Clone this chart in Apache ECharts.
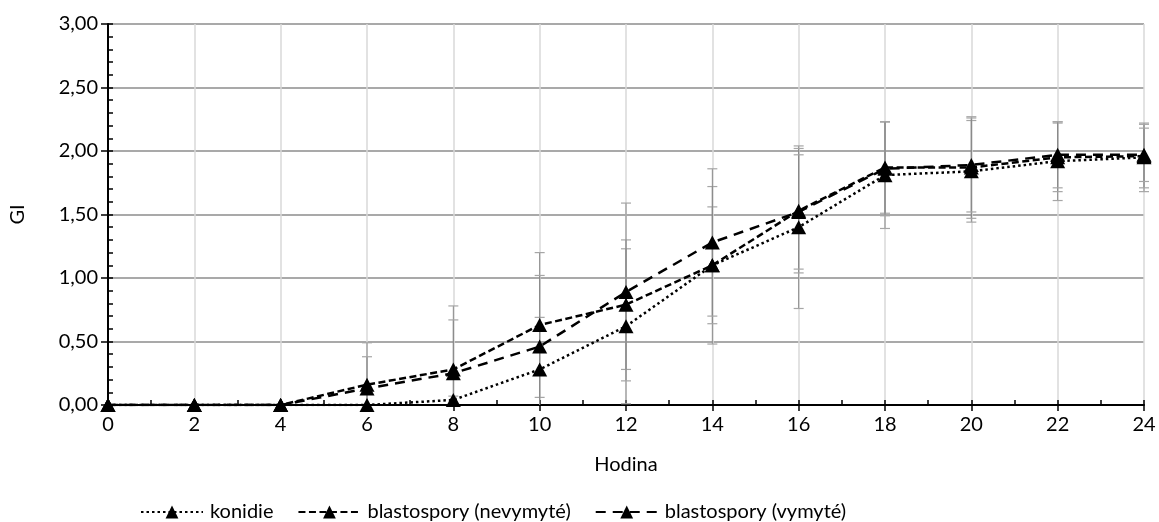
<!DOCTYPE html>
<html>
<head>
<meta charset="utf-8">
<script src="https://cdn.jsdelivr.net/npm/echarts@6/dist/echarts.min.js"></script>
<style>
html,body{margin:0;padding:0;background:#fff;}
#chart{width:1159px;height:522px;}
</style>
</head>
<body>
<div id="chart"></div>
<script>
const hours = [0, 2, 4, 6, 8, 10, 12, 14, 16, 18, 20, 22, 24];
const seriesNames = ['konidie', 'blastospory (nevymyté)', 'blastospory (vymyté)'];
const konidie = [0, 0, 0, 0, 0.04, 0.28, 0.62, 1.10, 1.40, 1.81, 1.84, 1.92, 1.95];
const konidieErr = [0, 0, 0, 0, 0.03, 0.41, 0.61, 0.62, 0.64, 0.42, 0.40, 0.31, 0.27];
const nevymyte = [0, 0, 0, 0.16, 0.28, 0.63, 0.79, 1.10, 1.53, 1.87, 1.87, 1.95, 1.96];
const nevymyteErr = [0, 0, 0, 0.33, 0.50, 0.57, 0.51, 0.46, 0.49, 0.36, 0.40, 0.27, 0.25];
const vymyte = [0, 0, 0, 0.13, 0.25, 0.46, 0.89, 1.28, 1.52, 1.86, 1.89, 1.97, 1.97];
const vymyteErr = [0, 0, 0, 0.25, 0.42, 0.56, 0.70, 0.58, 0.45, 0.37, 0.37, 0.26, 0.21];
const yTickLabels = ['0,00', '0,50', '1,00', '1,50', '2,00', '2,50', '3,00'];

const FONT = 'Lato, "Open Sans", sans-serif';
const FS = 20;
const YMIN = 0, YMAX = 3;

function pairs(vals) { return hours.map((h, i) => [h, vals[i]]); }
function errData(vals, errs) { return hours.map((h, i) => [h, vals[i], errs[i]]); }

function errRender(params, api) {
  const x = api.value(0), v = api.value(1), e = api.value(2);
  if (!e) return null;
  const hi = Math.min(YMAX, v + e), lo = Math.max(YMIN, v - e);
  const pHi = api.coord([x, hi]), pLo = api.coord([x, lo]);
  const cap = 5;
  const style = { stroke: '#8a8a8a', lineWidth: 1 };
  const capStyle = { stroke: '#a6a6a6', lineWidth: 1.2 };
  const children = [
    { type: 'line', shape: { x1: pHi[0], y1: pHi[1], x2: pLo[0], y2: pLo[1] }, style: style }
  ];
  if (v + e <= YMAX) children.push({ type: 'line', shape: { x1: pHi[0] - cap, y1: pHi[1], x2: pHi[0] + cap, y2: pHi[1] }, style: capStyle });
  if (v - e >= YMIN) children.push({ type: 'line', shape: { x1: pLo[0] - cap, y1: pLo[1], x2: pLo[0] + cap, y2: pLo[1] }, style: capStyle });
  return { type: 'group', children: children };
}

function lineSeries(name, vals, dash) {
  return {
    name: name, type: 'line', data: pairs(vals),
    symbol: 'triangle', symbolSize: [15, 14],
    itemStyle: { color: '#000' },
    lineStyle: { color: '#000', width: 2.5, type: dash },
    z: 5, animation: false
  };
}
function errSeries(vals, errs) {
  return {
    type: 'custom', data: errData(vals, errs), renderItem: errRender,
    encode: { x: 0, y: 1 }, z: 3, silent: true, animation: false, clip: false
  };
}

const chart = echarts.init(document.getElementById('chart'));
chart.setOption({
  animation: false,
  backgroundColor: '#fff',
  textStyle: { fontFamily: FONT },
  grid: { left: 108, right: 15, top: 24, bottom: 117, containLabel: false },
  legend: {
    data: seriesNames,
    left: 135, top: 497,
    itemWidth: 62, itemHeight: 16, itemGap: 24,
    textStyle: { fontFamily: FONT, fontSize: FS, color: '#000', padding: [0, 0, 0, 2] }
  },
  xAxis: [{
    type: 'value', min: 0, max: 24, interval: 2,
    name: 'Hodina', nameLocation: 'middle', nameGap: 50,
    nameTextStyle: { fontFamily: FONT, fontSize: FS, color: '#000' },
    axisLine: { show: true, onZero: false, lineStyle: { color: '#000', width: 2 } },
    axisTick: { show: true, inside: false, length: 6, lineStyle: { color: '#000', width: 1.5 } },
    axisLabel: { fontFamily: FONT, fontSize: FS, color: '#000', margin: 10 },
    splitLine: { show: true, lineStyle: { color: '#d9d9d9', width: 1.5 } }
  }, {
    type: 'value', min: 0, max: 24, interval: 1, position: 'bottom',
    axisLine: { show: false },
    axisTick: { show: true, inside: true, length: 5, lineStyle: { color: '#000', width: 1.5 } },
    axisLabel: { show: false }, splitLine: { show: false }
  }],
  yAxis: [{
    type: 'value', min: 0, max: 3, interval: 0.5,
    name: 'GI', nameLocation: 'middle', nameGap: 80, nameRotate: 90,
    nameTextStyle: { fontFamily: FONT, fontSize: FS, color: '#000' },
    axisLine: { show: true, onZero: false, lineStyle: { color: '#000', width: 2 } },
    axisTick: { show: true, inside: false, length: 7, lineStyle: { color: '#000', width: 1.5 } },
    axisLabel: { fontFamily: FONT, fontSize: FS, color: '#000', margin: 10,
      formatter: function (v) { return yTickLabels[Math.round(v * 2)]; } },
    splitLine: { show: true, lineStyle: { color: '#8c8c8c', width: 1.5 } }
  }, {
    type: 'value', min: 0, max: 3, interval: 0.1, position: 'left',
    axisLine: { show: false },
    axisTick: { show: true, inside: true, length: 5, lineStyle: { color: '#000', width: 1.5 } },
    axisLabel: { show: false }, splitLine: { show: false }
  }],
  series: [
    errSeries(konidie, konidieErr),
    errSeries(nevymyte, nevymyteErr),
    errSeries(vymyte, vymyteErr),
    lineSeries(seriesNames[0], konidie, [2.5, 3]),
    lineSeries(seriesNames[1], nevymyte, [7, 3.5]),
    lineSeries(seriesNames[2], vymyte, [10, 7])
  ]
});
</script>
</body>
</html>
